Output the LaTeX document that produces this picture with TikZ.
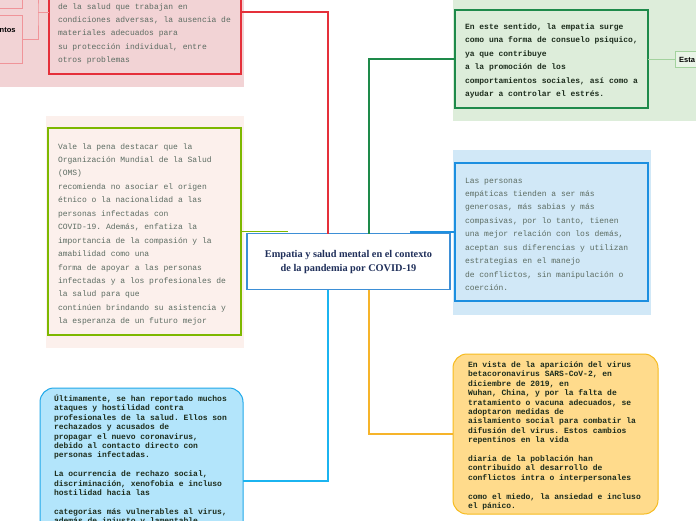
\documentclass[tikz,border=0pt]{standalone}
\usepackage{fontspec}
\setmainfont{Liberation Serif}
\setmonofont{Liberation Mono}
\newfontfamily\sansfont{Liberation Sans}
\definecolor{pinkbg}{HTML}{F2D3D5}
\definecolor{redc}{HTML}{E5303A}
\definecolor{pinkline}{HTML}{F09499}
\definecolor{limebg}{HTML}{FCF0EC}
\definecolor{limec}{HTML}{7DB800}
\definecolor{greenbg}{HTML}{DDEDDA}
\definecolor{greenc}{HTML}{1E8A4A}
\definecolor{estafill}{HTML}{E9F4E7}
\definecolor{estaline}{HTML}{A3D29E}
\definecolor{bluebg}{HTML}{D1E8F7}
\definecolor{bluec}{HTML}{1C8FE0}
\definecolor{mainc}{HTML}{3D8FD6}
\definecolor{navy}{HTML}{1F2F5A}
\definecolor{cyanc}{HTML}{1BB4F0}
\definecolor{lbfill}{HTML}{B3E5FB}
\definecolor{lbline}{HTML}{20A9EA}
\definecolor{orangec}{HTML}{F6B42A}
\definecolor{yfill}{HTML}{FFDB8C}
\definecolor{yline}{HTML}{F6BB1F}
\definecolor{graytxt}{HTML}{5C6C62}
\definecolor{darktxt}{HTML}{1D2D1D}
\begin{document}
\begin{tikzpicture}[x=1pt,y=-1pt,
  box/.style={draw, anchor=north west, inner sep=0pt, outer sep=0pt},
  bgbox/.style={fill, anchor=north west, inner sep=0pt, outer sep=0pt, draw=none},
  graytext/.style={anchor=north west, inner sep=0pt, outer sep=0pt, align=left, text=graytxt,
     font=\fontsize{8}{13.45}\selectfont\ttfamily},
  darktext/.style={anchor=north west, inner sep=0pt, outer sep=0pt, align=left, text=darktxt,
     font=\fontsize{8}{13.5}\selectfont\ttfamily\bfseries},
  tighttext/.style={anchor=north west, inner sep=0pt, outer sep=0pt, align=left, text=darktxt,
     font=\fontsize{8}{9.4}\selectfont\ttfamily\bfseries},
  conn/.style={line width=1.2pt},
  smalllabel/.style={inner sep=0pt, anchor=west, font=\fontsize{7.5}{9}\selectfont\sansfont\bfseries}
]
\useasboundingbox (0,0) rectangle (696,520);
\clip (0,0) rectangle (696,520);
\fill[white] (0,0) rectangle (696,520);

% backgrounds
\node[bgbox, fill=pinkbg, minimum width=264pt, minimum height=107pt] (pinkback) at (-20,-20) {};
\node[bgbox, fill=limebg, minimum width=198pt, minimum height=232pt] (limeback) at (46,116) {};
\node[bgbox, fill=greenbg, minimum width=263pt, minimum height=141pt] (greenback) at (453,-20) {};
\node[bgbox, fill=bluebg, minimum width=198pt, minimum height=165pt] (blueback) at (453,150) {};

% boxes
\node[box, draw=redc, line width=2pt, minimum width=192pt, minimum height=124pt] (redbox) at (49,-50) {};
\node[box, draw=pinkline, line width=1pt, minimum width=42pt, minimum height=28pt] (boxa) at (-20,-20) {};
\node[box, draw=pinkline, line width=1pt, minimum width=52pt, minimum height=48pt] (boxb) at (-30,15) {};
\node[box, draw=limec, line width=2pt, minimum width=193pt, minimum height=207pt] (limebox) at (48,128) {};
\node[box, draw=greenc, line width=2pt, minimum width=193pt, minimum height=98pt] (greenbox) at (455,10) {};
\node[box, draw=estaline, fill=estafill, line width=1pt, minimum width=50pt, minimum height=16pt] (estabox) at (675,51) {};
\node[box, draw=bluec, line width=2pt, minimum width=193pt, minimum height=138pt] (bluebox) at (455,163) {};
\node[box, draw=yline, fill=yfill, line width=1pt, rounded corners=14pt, minimum width=205pt, minimum height=160pt] (ybox) at (453,354) {};
\node[box, draw=lbline, fill=lbfill, line width=1pt, rounded corners=14pt, minimum width=203pt, minimum height=186pt] (lbbox) at (40,388) {};

% main node
\node[box, draw=mainc, fill=white, line width=1.5pt, minimum width=203pt, minimum height=56pt] (mainn) at (247,233.5) {};
\node[align=center, inner sep=0pt, text=navy, font=\fontsize{10.3}{13.5}\selectfont\bfseries] (title) at ([yshift=-0.5pt]mainn.center)
  {Empatia y salud mental en el contexto\\de la pandemia por COVID-19};

% connector end points on the main node
\coordinate (ntopA) at ([xshift=-60.5pt]mainn.north);
\coordinate (ntopB) at ([xshift=-20.5pt]mainn.north);
\coordinate (ntopC) at ([xshift=20.5pt]mainn.north);
\coordinate (ntopD) at ([xshift=61.5pt]mainn.north);
\coordinate (nbotB) at ([xshift=-20.5pt]mainn.south);
\coordinate (nbotC) at ([xshift=20.5pt]mainn.south);

% connectors
\draw[conn, redc] (redbox.east) -| (ntopB);
\draw[conn, greenc] (greenbox.west) -| (ntopC);
\draw[conn, limec] (limebox.east) -- (ntopA |- limebox.east);
\draw[conn, bluec] (bluebox.west) -- (ntopD |- bluebox.west);
\draw[conn, cyanc] (nbotB) |- (lbbox.east);
\draw[conn, orangec] (nbotC) |- (ybox.west);
\draw[line width=1pt, estaline] (greenbox.east) -- (estabox.west);
\coordinate (knot) at (38,12);
\draw[line width=1pt, pinkline] (redbox.west) -- (knot);
\draw[line width=1pt, pinkline] (boxa.east) -| (knot) |- (boxb.east);

% texts
\node[smalllabel] (ntos) at (-0.5,30.5) {ntos};
\node[smalllabel] (esta) at (679,59.5) {Esta};

\node[graytext] (redtext) at (58,1) {\rule{0pt}{8pt}de la salud que trabajan en\\
condiciones adversas, la ausencia de\\
materiales adecuados para\\
su protección individual, entre\\
otros problemas};

\node[graytext] (limetext) at (58,141) {\rule{0pt}{8pt}Vale la pena destacar que la\\
Organización Mundial de la Salud\\
(OMS)\\
recomienda no asociar el origen\\
étnico o la nacionalidad a las\\
personas infectadas con\\
COVID-19. Además, enfatiza la\\
importancia de la compasión y la\\
amabilidad como una\\
forma de apoyar a las personas\\
infectadas y a los profesionales de\\
la salud para que\\
continúen brindando su asistencia y\\
la esperanza de un futuro mejor};

\node[darktext] (greentext) at (465,21) {\rule{0pt}{8pt}En este sentido, la empatia surge\\
como una forma de consuelo psiquico,\\
ya que contribuye\\
a la promoción de los\\
comportamientos sociales, así como a\\
ayudar a controlar el estrés.};

\node[graytext] (bluetext) at (465,175) {\rule{0pt}{8pt}Las personas\\
empáticas tienden a ser más\\
generosas, más sabias y más\\
compasivas, por lo tanto, tienen\\
una mejor relación con los demás,\\
aceptan sus diferencias y utilizan\\
estrategias en el manejo\\
de conflictos, sin manipulación o\\
coerción.};

\node[tighttext] (ytext) at (468,359.5) {\rule{0pt}{8pt}En vista de la aparición del virus\\
betacoronavirus SARS-CoV-2, en\\
diciembre de 2019, en\\
Wuhan, China, y por la falta de\\
tratamiento o vacuna adecuados, se\\
adoptaron medidas de\\
aislamiento social para combatir la\\
difusión del virus. Estos cambios\\
repentinos en la vida\\
\mbox{}\\
diaria de la población han\\
contribuido al desarrollo de\\
conflictos intra o interpersonales\\
\mbox{}\\
como el miedo, la ansiedad e incluso\\
el pánico.};

\node[tighttext] (lbtext) at (54,393.5) {\rule{0pt}{8pt}Últimamente, se han reportado muchos\\
ataques y hostilidad contra\\
profesionales de la salud. Ellos son\\
rechazados y acusados de\\
propagar el nuevo coronavirus,\\
debido al contacto directo con\\
personas infectadas.\\
\mbox{}\\
La ocurrencia de rechazo social,\\
discriminación, xenofobia e incluso\\
hostilidad hacia las\\
\mbox{}\\
categorias más vulnerables al virus,\\
además de injusto y lamentable};
\end{tikzpicture}
\end{document}
